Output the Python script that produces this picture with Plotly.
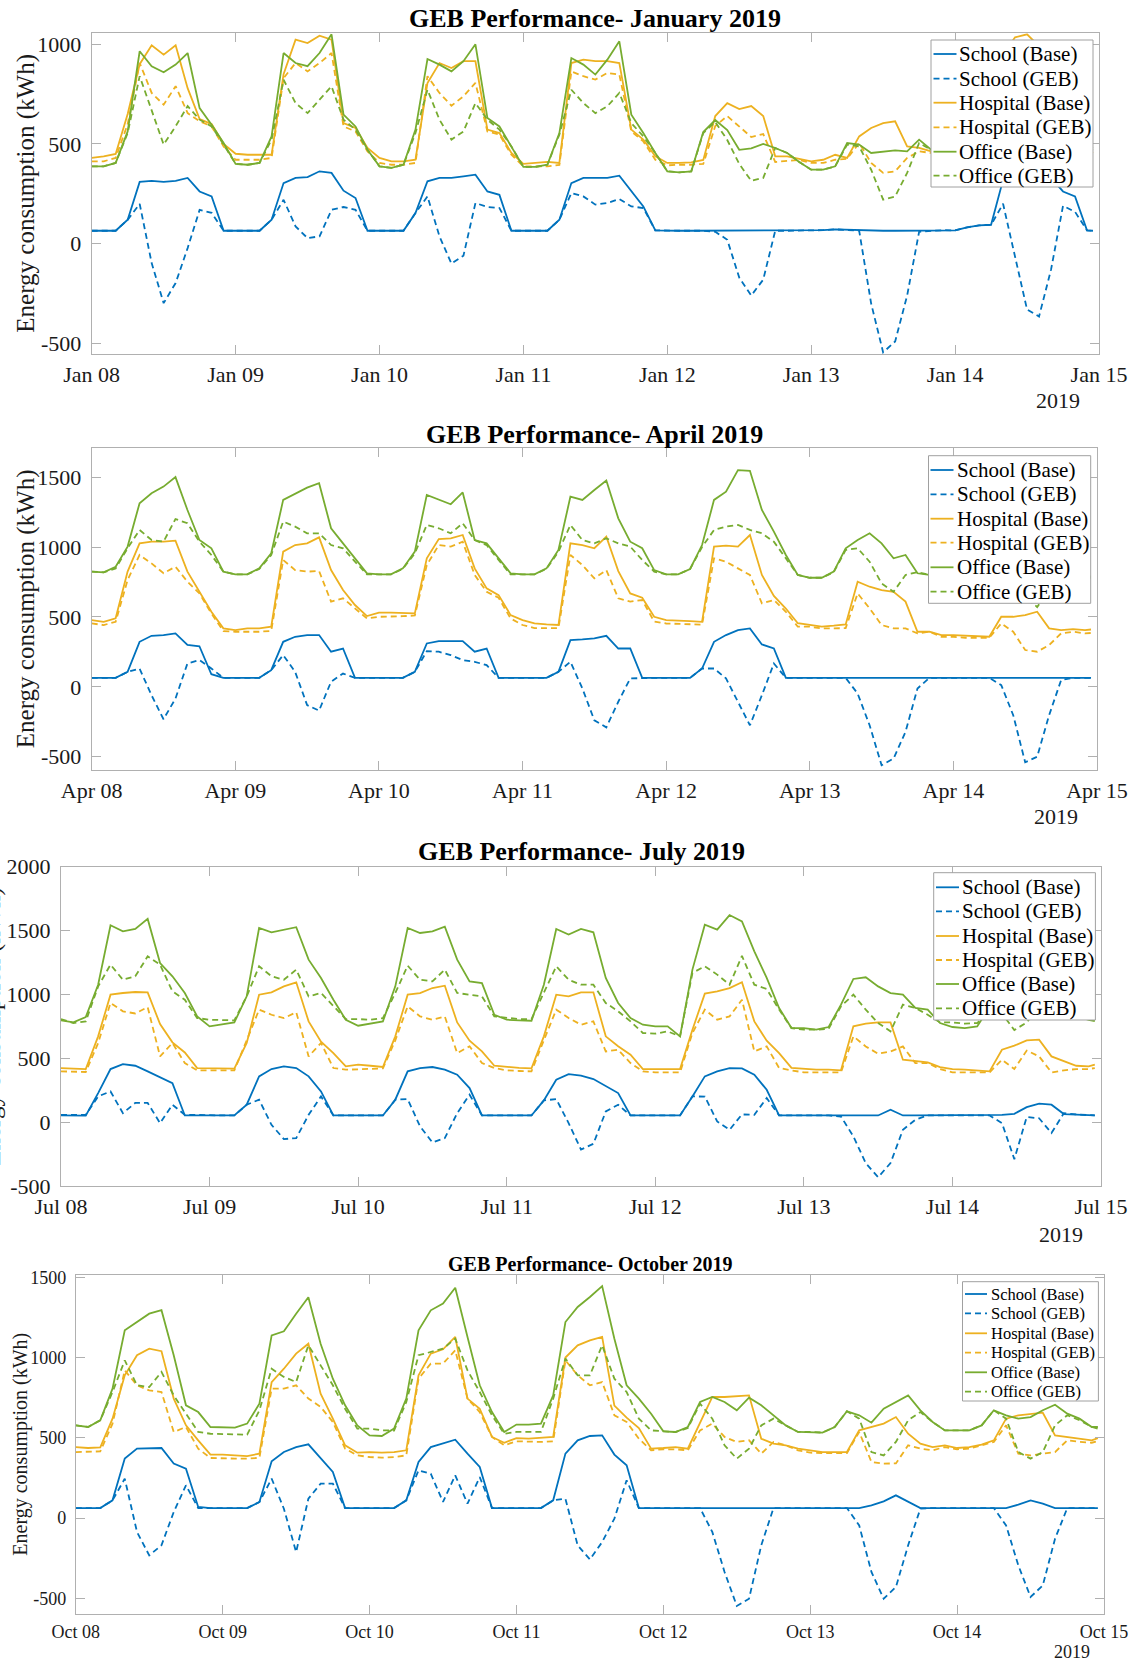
import pandas as pd
import plotly.graph_objects as go

W, H = 1139, 1662
FONT = "Liberation Serif, Times New Roman, serif"
BLUE, YELLOW, GREEN = "#0072BD", "#EDB120", "#77AC30"
AXIS_GREY = "#b0b0b0"
TXT = "#1a1a1a"

# sample hours within each 7-day window (every 2 h, plus last hour)
hours = list(range(0, 168, 2)) + [167]

series_names = ["School (Base)", "School (GEB)", "Hospital (Base)",
                "Hospital (GEB)", "Office (Base)", "Office (GEB)"]

# ---------------- January 2019 (kWh) ----------------
jan_school_base = [
    65, 65, 65, 120, 310, 315, 310, 315, 330, 262, 237, 65,
    65, 65, 65, 120, 304, 330, 334, 363, 355, 266, 229, 65,
    65, 65, 65, 154, 313, 330, 330, 338, 346, 262, 245, 65,
    65, 65, 65, 120, 304, 330, 330, 330, 341, 262, 187, 67,
    65, 65, 65, 65, 65, 65, 65, 65, 65, 65, 65, 65,
    68, 68, 72, 70, 68, 65, 65, 65, 65, 67, 67, 68,
    67, 82, 92, 95, 320, 340, 345, 350, 330, 262, 237, 67,
    65]
jan_school_geb = [
    65, 65, 65, 120, 200, -97, -298, -197, -22, 170, 155, 65,
    65, 65, 65, 120, 220, 87, 28, 37, 170, 184, 170, 65,
    65, 65, 65, 154, 237, 37, -100, -60, 204, 184, 179, 65,
    65, 65, 65, 120, 254, 237, 196, 204, 224, 187, 179, 67,
    65, 65, 65, 65, 60, 20, -170, -260, -180, 65, 65, 65,
    68, 68, 72, 70, 65, -300, -545, -490, -260, 60, 65, 68,
    67, 82, 92, 95, 200, -60, -330, -365, -130, 190, 160, 67,
    65]
jan_hosp_base = [
    430, 438, 450, 650, 900, 995, 948, 995, 780, 625, 600, 500,
    451, 446, 446, 446, 850, 1023, 1006, 1043, 1023, 605, 580, 480,
    430, 413, 413, 421, 806, 906, 881, 915, 915, 572, 555, 455,
    400, 405, 410, 405, 906, 923, 915, 915, 906, 572, 522, 438,
    405, 405, 408, 420, 640, 705, 675, 690, 640, 438, 438, 425,
    413, 421, 446, 430, 538, 580, 605, 614, 488, 480, 463, 455,
    460, 455, 460, 600, 950, 1035, 1050, 990, 700, 560, 520, 470,
    455]
jan_hosp_geb = [
    413, 413, 430, 600, 906, 756, 697, 790, 655, 614, 588, 488,
    421, 421, 421, 430, 830, 906, 864, 906, 956, 588, 563, 463,
    405, 396, 396, 405, 840, 756, 692, 739, 806, 563, 547, 446,
    388, 388, 388, 395, 864, 840, 823, 856, 848, 563, 513, 421,
    393, 396, 396, 400, 590, 640, 588, 535, 550, 410, 415, 420,
    405, 405, 421, 426, 505, 405, 355, 363, 430, 463, 455, 446,
    440, 435, 445, 560, 850, 800, 750, 780, 650, 540, 500, 450,
    446]
jan_office_base = [
    388, 388, 405, 563, 965, 890, 860, 898, 956, 680, 597, 505,
    400, 396, 405, 538, 956, 906, 890, 956, 1050, 647, 588, 471,
    388, 380, 396, 572, 926, 898, 864, 915, 1000, 630, 588, 488,
    385, 385, 396, 555, 931, 898, 848, 923, 1015, 647, 555, 455,
    363, 358, 363, 560, 620, 570, 471, 478, 500, 480, 455, 410,
    371, 371, 388, 505, 497, 455, 463, 468, 463, 522, 471, 455,
    470, 465, 470, 650, 950, 920, 900, 930, 950, 650, 560, 490,
    480]
jan_office_geb = [
    388, 388, 405, 555, 840, 672, 497, 589, 690, 622, 588, 497,
    400, 396, 405, 522, 822, 705, 655, 722, 789, 622, 572, 471,
    388, 380, 396, 555, 772, 622, 522, 563, 705, 622, 572, 488,
    385, 385, 396, 547, 772, 705, 655, 689, 756, 605, 538, 455,
    363, 358, 363, 555, 610, 520, 400, 315, 330, 480, 455, 410,
    371, 371, 388, 497, 488, 371, 221, 237, 355, 505, 471, 455,
    470, 465, 470, 600, 820, 700, 600, 650, 720, 600, 530, 480,
    470]

# ---------------- April 2019 (kWh) ----------------
apr_school_base = [
    64, 64, 64, 107, 322, 365, 370, 382, 300, 290, 90, 64,
    64, 64, 64, 119, 322, 358, 370, 370, 251, 274, 64, 64,
    64, 64, 64, 107, 310, 327, 327, 327, 251, 274, 64, 64,
    64, 64, 64, 107, 334, 339, 346, 365, 274, 274, 64, 64,
    64, 64, 64, 131, 322, 370, 406, 418, 303, 274, 64, 64,
    64, 64, 64, 64, 64, 64, 64, 64, 64, 64, 64, 64,
    64, 64, 64, 64, 64, 64, 64, 64, 64, 64, 64, 64,
    64]
apr_school_geb = [
    64, 64, 64, 107, 130, -60, -232, -84, 167, 191, 131, 64,
    64, 64, 64, 119, 227, 107, -131, -170, 36, 95, 64, 64,
    64, 64, 64, 107, 255, 251, 227, 191, 179, 155, 64, 64,
    64, 64, 64, 107, 179, -12, -240, -290, -107, 60, 64, 64,
    64, 64, 64, 131, 131, 60, -107, -275, -60, 167, 64, 64,
    64, 64, 64, 64, -48, -275, -561, -513, -322, -12, 64, 64,
    64, 64, 64, 64, 12, -203, -540, -500, -203, 48, 64, 64,
    64]
apr_hosp_base = [
    477, 465, 490, 824, 1026, 1038, 1038, 1045, 824, 680, 537, 418,
    406, 418, 418, 430, 967, 1014, 1026, 1069, 835, 692, 585, 506,
    530, 530, 525, 525, 919, 1057, 1062, 1086, 847, 704, 656, 513,
    477, 453, 446, 442, 1026, 1014, 991, 1074, 828, 668, 637, 501,
    477, 475, 470, 465, 1003, 1010, 1003, 1086, 800, 650, 560, 455,
    442, 430, 437, 446, 752, 716, 692, 680, 609, 394, 394, 370,
    370, 365, 358, 358, 501, 501, 513, 537, 418, 406, 413, 406,
    410]
apr_hosp_geb = [
    453, 442, 465, 764, 943, 883, 812, 859, 752, 668, 525, 399,
    394, 394, 394, 400, 907, 835, 824, 828, 609, 633, 561, 489,
    501, 501, 505, 510, 871, 1014, 1003, 1038, 800, 680, 637, 489,
    442, 420, 418, 420, 943, 871, 776, 835, 633, 609, 621, 466,
    453, 450, 448, 445, 919, 895, 847, 800, 597, 621, 537, 430,
    430, 418, 418, 420, 668, 561, 442, 418, 418, 382, 394, 358,
    358, 351, 351, 351, 453, 394, 263, 251, 298, 382, 394, 382,
    385]
apr_office_base = [
    824, 819, 859, 1003, 1313, 1384, 1432, 1500, 1265, 1050, 991, 824,
    804, 804, 847, 955, 1337, 1384, 1425, 1456, 1134, 1026, 919, 812,
    804, 804, 847, 967, 1373, 1337, 1306, 1390, 1050, 1026, 919, 812,
    804, 804, 847, 979, 1360, 1337, 1408, 1475, 1205, 1038, 991, 835,
    804, 804, 843, 1014, 1337, 1396, 1550, 1545, 1265, 1110, 943, 800,
    780, 780, 824, 991, 1050, 1098, 1026, 919, 943, 812, 800, 790,
    790, 785, 800, 960, 1000, 1020, 1000, 980, 900, 830, 800, 790,
    790]
apr_office_geb = [
    824, 819, 847, 991, 1122, 1050, 1038, 1200, 1170, 1038, 943, 824,
    804, 804, 843, 943, 1182, 1146, 1098, 1098, 1014, 991, 895, 804,
    804, 804, 843, 955, 1158, 1134, 1098, 1170, 1050, 1014, 907, 804,
    804, 804, 843, 967, 1158, 1050, 1026, 1062, 1026, 1003, 907, 824,
    804, 804, 843, 1000, 1122, 1146, 1158, 1122, 1098, 1038, 919, 800,
    780, 780, 820, 979, 991, 895, 740, 680, 800, 820, 800, 790,
    790, 785, 800, 940, 900, 800, 650, 570, 700, 800, 790, 780,
    780]

# ---------------- July 2019 (kWh) ----------------
jul_school_base = [
    52, 52, 50, 227, 415, 454, 441, 397, 352, 305, 52, 52,
    52, 52, 52, 136, 358, 415, 436, 423, 358, 240, 52, 52,
    52, 52, 52, 175, 397, 423, 431, 410, 371, 266, 52, 52,
    52, 52, 52, 170, 331, 375, 363, 337, 279, 227, 52, 52,
    52, 52, 52, 201, 358, 397, 423, 420, 371, 253, 52, 52,
    52, 52, 52, 52, 52, 52, 52, 97, 52, 52, 52, 52,
    52, 52, 52, 52, 57, 65, 117, 144, 136, 63, 60, 52,
    52]
jul_school_geb = [
    57, 57, 57, 201, 240, 70, 150, 150, -8, 136, 57, 57,
    52, 52, 52, 136, 175, -21, -133, -125, 57, 201, 52, 52,
    52, 52, 52, 175, 180, -34, -159, -125, 70, 214, 52, 52,
    52, 52, 52, 170, 180, -8, -215, -170, 83, 136, 52, 52,
    52, 52, 52, 201, 200, 5, -60, 60, 57, 188, 52, 52,
    52, 52, 52, 44, -112, -321, -431, -321, -60, 18, 52, 52,
    52, 52, 52, 52, -8, -290, 40, 30, -86, 70, 60, 55,
    52]
jul_hosp_base = [
    423, 418, 415, 671, 997, 1010, 1018, 1015, 767, 624, 545, 423,
    423, 420, 418, 619, 997, 1015, 1062, 1094, 788, 629, 540, 436,
    449, 441, 431, 671, 997, 1010, 1049, 1067, 780, 637, 553, 441,
    431, 425, 420, 671, 997, 984, 1015, 1015, 671, 593, 527, 415,
    415, 415, 415, 723, 1005, 1023, 1049, 1094, 788, 637, 540, 425,
    415, 410, 410, 405, 749, 770, 780, 780, 488, 480, 467, 431,
    415, 410, 405, 397, 566, 598, 639, 645, 514, 475, 441, 436,
    449]
jul_hosp_geb = [
    397, 392, 392, 619, 932, 867, 850, 900, 514, 619, 462, 405,
    405, 405, 405, 640, 880, 840, 814, 859, 514, 619, 423, 410,
    415, 420, 420, 640, 906, 827, 801, 827, 540, 593, 462, 423,
    405, 400, 397, 640, 880, 814, 762, 788, 553, 566, 462, 397,
    389, 389, 389, 697, 880, 801, 827, 958, 553, 593, 423, 405,
    389, 389, 389, 389, 671, 592, 535, 553, 592, 462, 462, 415,
    389, 389, 389, 389, 488, 415, 560, 514, 389, 405, 415, 415,
    423]
jul_office_base = [
    796, 780, 822, 1075, 1540, 1493, 1511, 1590, 1245, 1141, 1010, 827,
    749, 762, 780, 984, 1519, 1485, 1506, 1525, 1271, 1128, 958, 801,
    754, 770, 788, 1062, 1519, 1480, 1493, 1530, 1271, 1101, 1088, 840,
    801, 796, 793, 1075, 1511, 1467, 1511, 1485, 1128, 932, 814, 762,
    749, 749, 671, 1193, 1545, 1506, 1620, 1570, 1336, 1128, 893, 736,
    736, 723, 744, 919, 1120, 1133, 1062, 1010, 997, 893, 880, 775,
    744, 736, 749, 900, 980, 1000, 1020, 1000, 960, 880, 830, 800,
    790]
jul_office_geb = [
    806, 775, 788, 1062, 1232, 1114, 1141, 1297, 1232, 1023, 958, 814,
    801, 796, 796, 984, 1219, 1141, 1114, 1193, 984, 1010, 906, 806,
    806, 801, 814, 1010, 1224, 1114, 1101, 1193, 1010, 997, 984, 827,
    814, 806, 806, 1010, 1219, 1114, 1075, 1075, 932, 867, 788, 697,
    692, 710, 671, 1167, 1219, 1154, 1075, 1300, 1075, 1041, 880, 736,
    723, 723, 730, 906, 997, 880, 775, 710, 919, 893, 840, 780,
    780, 770, 775, 870, 850, 720, 780, 900, 880, 850, 820, 800,
    800]

# ---------------- October 2019 (kWh) ----------------
oct_school_base = [
    62, 62, 62, 110, 370, 432, 436, 436, 339, 307, 69, 62,
    62, 62, 62, 100, 353, 411, 442, 459, 374, 287, 62, 62,
    62, 62, 62, 110, 349, 442, 467, 488, 401, 318, 62, 62,
    62, 62, 62, 110, 401, 484, 511, 515, 395, 328, 62, 62,
    62, 62, 62, 62, 62, 62, 62, 62, 62, 62, 62, 62,
    62, 62, 62, 62, 62, 79, 104, 141, 100, 62, 62, 62,
    62, 62, 62, 62, 62, 83, 110, 89, 62, 62, 62, 62,
    62]
oct_school_geb = [
    62, 62, 62, 110, 245, -87, -233, -170, 37, 204, 62, 62,
    62, 62, 62, 100, 245, 58, -212, 120, 214, 214, 62, 62,
    62, 62, 62, 110, 297, 276, 100, 266, 89, 255, 62, 62,
    62, 62, 62, 110, 120, -170, -258, -150, -4, 235, 62, 62,
    62, 62, 62, 62, -87, -336, -548, -503, -170, 62, 62, 62,
    62, 62, 62, 62, -46, -336, -503, -430, -170, 58, 62, 62,
    62, 62, 62, 62, -46, -295, -492, -420, -129, 62, 62, 62,
    62]
oct_hosp_base = [
    442, 436, 440, 619, 889, 1014, 1055, 1039, 744, 577, 484, 395,
    395, 390, 386, 401, 847, 930, 1024, 1086, 775, 619, 453, 407,
    411, 407, 411, 422, 889, 1024, 1051, 1128, 744, 681, 505, 469,
    498, 494, 498, 505, 1000, 1076, 1107, 1128, 700, 625, 560, 432,
    436, 442, 432, 598, 754, 754, 758, 764, 494, 463, 453, 432,
    422, 411, 411, 411, 546, 567, 588, 629, 525, 463, 442, 453,
    436, 442, 457, 484, 619, 640, 650, 656, 515, 505, 494, 484,
    498]
oct_hosp_geb = [
    411, 411, 415, 588, 920, 827, 795, 785, 536, 567, 432, 374,
    370, 370, 370, 375, 806, 806, 827, 744, 692, 598, 432, 390,
    380, 376, 380, 390, 868, 962, 962, 1045, 744, 660, 505, 453,
    478, 474, 474, 478, 982, 889, 827, 847, 640, 598, 494, 422,
    428, 428, 422, 546, 588, 505, 474, 484, 401, 474, 453, 422,
    407, 405, 405, 405, 536, 349, 339, 340, 453, 432, 422, 442,
    428, 432, 453, 474, 577, 401, 390, 401, 411, 484, 474, 469,
    478]
oct_office_base = [
    577, 567, 609, 806, 1169, 1221, 1273, 1295, 1014, 702, 660, 567,
    567, 563, 588, 712, 1138, 1163, 1273, 1375, 1086, 868, 702, 577,
    515, 511, 557, 744, 1169, 1294, 1336, 1435, 1128, 827, 660, 536,
    582, 582, 588, 764, 1221, 1315, 1377, 1445, 1117, 827, 744, 650,
    540, 536, 567, 723, 754, 723, 671, 750, 702, 640, 577, 536,
    536, 532, 567, 665, 640, 594, 681, 723, 764, 671, 598, 546,
    546, 546, 577, 671, 640, 619, 629, 671, 706, 650, 619, 567,
    567]
oct_office_geb = [
    577, 567, 609, 785, 982, 827, 816, 910, 764, 650, 536, 525,
    525, 521, 519, 671, 930, 879, 847, 1076, 951, 827, 681, 557,
    557, 546, 545, 723, 1014, 1034, 1055, 1117, 920, 785, 640, 525,
    536, 536, 536, 744, 993, 889, 889, 1076, 868, 785, 619, 546,
    540, 536, 560, 712, 619, 453, 370, 432, 577, 619, 577, 536,
    536, 532, 567, 665, 619, 411, 390, 474, 609, 660, 598, 546,
    546, 546, 577, 671, 619, 411, 370, 411, 577, 640, 609, 567,
    557]

series_colors = [BLUE, BLUE, YELLOW, YELLOW, GREEN, GREEN]
DASH = "6px,4px"
series_dash = ["solid", DASH, "solid", DASH, "solid", DASH]

panels = [
    dict(start="2019-01-08", title="GEB Performance- January 2019",
         data=[jan_school_base, jan_school_geb, jan_hosp_base, jan_hosp_geb, jan_office_base, jan_office_geb],
         yrange=[-553, 1055], yticks=[-500, 0, 500, 1000],
         box=(91.7, 33.3, 1099.0, 354.0), title_xy=(595, 18), title_size=26,
         ytitle=(26, "center"), ytitle_size=25, year_xy=(1058, 401), tick_size=22,
         leg_box=(931, 40, 1093, 187), leg_line=(933.5, 956.5), leg_text_x=957,
         leg_y=[54, 78.7, 102.7, 127.3, 151.7, 175.7], leg_size=21),
    dict(start="2019-04-08", title="GEB Performance- April 2019",
         data=[apr_school_base, apr_school_geb, apr_hosp_base, apr_hosp_geb, apr_office_base, apr_office_geb],
         yrange=[-595, 1706], yticks=[-500, 0, 500, 1000, 1500],
         box=(91.7, 448.3, 1097.0, 770.0), title_xy=(594, 434), title_size=26,
         ytitle=(26, "center"), ytitle_size=25, year_xy=(1056, 816), tick_size=22,
         leg_box=(928.5, 455.7, 1090.7, 603.3), leg_line=(930.5, 953.5), leg_text_x=954.5,
         leg_y=[470, 494.3, 518.7, 542.7, 567.3, 591.7], leg_size=21),
    dict(start="2019-07-08", title="GEB Performance- July 2019",
         data=[jul_school_base, jul_school_geb, jul_hosp_base, jul_hosp_geb, jul_office_base, jul_office_geb],
         yrange=[-500, 2000], yticks=[-500, 0, 500, 1000, 1500, 2000],
         box=(61.0, 866.5, 1101.0, 1186.0), title_xy=(581, 852), title_size=26,
         ytitle=(8.5, "right"), ytitle_size=25, year_xy=(1061, 1234), tick_size=22,
         leg_box=(933.7, 872.7, 1095.4, 1020), leg_line=(936, 959), leg_text_x=960,
         leg_y=[887.3, 911.3, 936, 960, 984, 1008.3], leg_size=21),
    dict(start="2019-10-08", title="GEB Performance- October 2019",
         data=[oct_school_base, oct_school_geb, oct_hosp_base, oct_hosp_geb, oct_office_base, oct_office_geb],
         yrange=[-600, 1514], yticks=[-500, 0, 500, 1000, 1500],
         box=(75.8, 1275.0, 1104.0, 1614.3), title_xy=(590, 1264), title_size=20,
         ytitle=(21, "center"), ytitle_size=20, year_xy=(1072, 1652), tick_size=18,
         leg_box=(962.5, 1281.7, 1098.4, 1401), leg_line=(965, 987), leg_text_x=988.5,
         leg_y=[1294, 1313.3, 1333.3, 1352.7, 1372.3, 1391.7], leg_size=16.5),
]


def px(x):
    return x / W


def py(y):
    return 1 - y / H


fig = go.Figure()
shapes, annotations = [], []
layout = {}

for i, p in enumerate(panels, 1):
    sfx = "" if i == 1 else str(i)
    xa, ya = "x" + sfx, "y" + sfx
    start = pd.Timestamp(p["start"])
    xs = [start + pd.Timedelta(hours=h) for h in hours]
    for vals, name, col, dash in zip(p["data"], series_names, series_colors, series_dash):
        fig.add_trace(go.Scatter(
            x=xs, y=vals, mode="lines", name=name, showlegend=False,
            line=dict(color=col, width=1.8, dash=dash),
            xaxis=xa, yaxis=ya, hoverinfo="skip"))

    days = [start + pd.Timedelta(days=d) for d in range(8)]
    x0, y0, x1, y1 = p["box"]
    tickfont = dict(family=FONT, size=p["tick_size"], color=TXT)
    layout["xaxis" + sfx] = dict(
        domain=[px(x0), px(x1)], anchor=ya, type="date", automargin=False,
        range=[days[0], days[-1]], tickvals=days,
        ticktext=[d.strftime("%b %d") for d in days],
        ticks="inside", ticklen=9, tickcolor=AXIS_GREY, tickwidth=1,
        showline=True, linecolor=AXIS_GREY, linewidth=1, mirror="ticks",
        showgrid=False, zeroline=False, tickfont=tickfont,
        ticklabelstandoff=1, fixedrange=True)
    layout["yaxis" + sfx] = dict(
        domain=[py(y1), py(y0)], anchor=xa, range=p["yrange"], automargin=False,
        tickvals=p["yticks"], ticktext=[str(v) for v in p["yticks"]],
        ticks="inside", ticklen=9, tickcolor=AXIS_GREY, tickwidth=1,
        showline=True, linecolor=AXIS_GREY, linewidth=1, mirror="ticks",
        showgrid=False, zeroline=False, tickfont=tickfont,
        ticklabelstandoff=5, fixedrange=True)

    # title
    tx, ty = p["title_xy"]
    annotations.append(dict(
        text="<b>" + p["title"] + "</b>", x=px(tx), y=py(ty), xref="paper", yref="paper",
        xanchor="center", yanchor="middle", showarrow=False,
        font=dict(family=FONT, size=p["title_size"], color="#000")))
    # y-axis title (in the July panel it sits mostly beyond the left edge, as in the source)
    yx, yanc = p["ytitle"]
    annotations.append(dict(
        text="Energy consumption (kWh)", x=px(yx), y=py((y0 + y1) / 2),
        xref="paper", yref="paper", xanchor=yanc, yanchor="middle",
        textangle=-90, showarrow=False,
        font=dict(family=FONT, size=p["ytitle_size"], color=TXT)))
    # year label
    yrx, yry = p["year_xy"]
    annotations.append(dict(
        text=str(start.year), x=px(yrx), y=py(yry), xref="paper", yref="paper",
        xanchor="center", yanchor="middle", showarrow=False,
        font=dict(family=FONT, size=p["tick_size"], color=TXT)))

    # legend box
    lx0, ly0, lx1, ly1 = p["leg_box"]
    shapes.append(dict(type="rect", xref="paper", yref="paper",
                       x0=px(lx0), x1=px(lx1), y0=py(ly1), y1=py(ly0),
                       fillcolor="white", line=dict(color="#a0a0a0", width=1),
                       layer="above"))
    sx0, sx1 = p["leg_line"]
    for yc, name, col, dash in zip(p["leg_y"], series_names, series_colors, series_dash):
        shapes.append(dict(type="line", xref="paper", yref="paper",
                           x0=px(sx0), x1=px(sx1), y0=py(yc), y1=py(yc),
                           line=dict(color=col, width=1.8, dash=dash), layer="above"))
        annotations.append(dict(
            text=name, x=px(p["leg_text_x"]), y=py(yc), xref="paper", yref="paper",
            xanchor="left", yanchor="middle", showarrow=False,
            font=dict(family=FONT, size=p["leg_size"], color="#000")))

fig.update_layout(
    width=W, height=H, autosize=False,
    margin=dict(l=0, r=0, t=0, b=0, pad=0, autoexpand=False),
    paper_bgcolor="white", plot_bgcolor="white",
    showlegend=False, shapes=shapes, annotations=annotations,
    font=dict(family=FONT, color=TXT),
    **layout)

fig.write_html("out.html", config={"displayModeBar": False, "staticPlot": True},
               post_script="document.body.style.margin='0px';document.body.style.overflow='hidden';")
